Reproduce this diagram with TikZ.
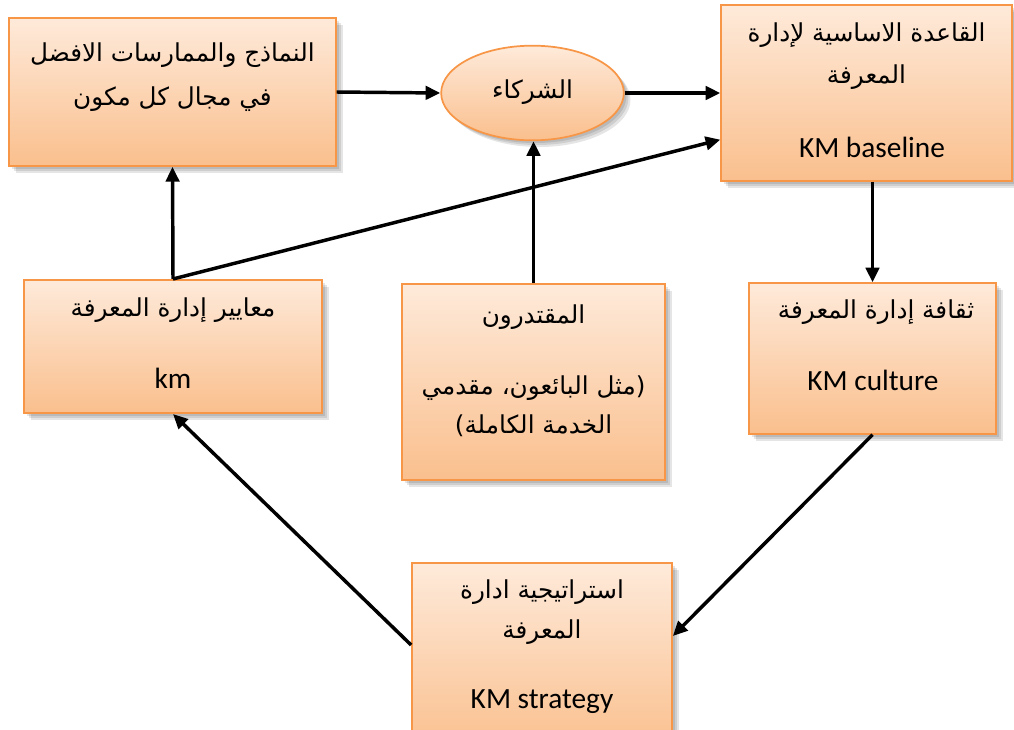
\documentclass[tikz,border=0pt]{standalone}
\usepackage{fontspec}
\setmainfont{Carlito}
\newfontfamily\arabicfont[Script=Arabic]{DejaVu Sans}
\TeXXeTstate=1
\usetikzlibrary{arrows.meta,shapes.geometric}

\definecolor{boxtop}{RGB}{254,234,218}
\definecolor{boxbot}{RGB}{250,191,141}
\definecolor{boxline}{RGB}{247,150,70}

\tikzset{
  softshadow/.style={
    preaction={fill=black,opacity=.10,transform canvas={xshift=2pt,yshift=-2pt}},
    preaction={fill=black,opacity=.10,transform canvas={xshift=3.5pt,yshift=-3.5pt}},
    preaction={fill=black,opacity=.10,transform canvas={xshift=5pt,yshift=-5pt}}},
  stagebox/.style={softshadow, draw=boxline, line width=1.3pt,
    top color=boxtop, bottom color=boxbot, inner sep=0pt},
  ar/.style={font=\arabicfont\fontsize{18.5}{22}\selectfont, inner sep=0pt},
  en/.style={font=\fontsize{22}{26}\selectfont, inner sep=0pt},
  flow/.style={line width=2.6pt, -{Triangle[length=11pt,width=10pt]}}
}

\begin{document}
\begin{tikzpicture}[x=0.75pt,y=-0.75pt]
\useasboundingbox (0,0) rectangle (1014,729);

% boxes
\node[stagebox, minimum width=245pt, minimum height=111pt] (A) at (172.5,92) {};
\node[stagebox, ellipse, minimum width=137pt, minimum height=71pt] (P) at (532.5,93) {};
\node[stagebox, minimum width=218pt, minimum height=132pt] (B) at (866.5,93) {};
\node[stagebox, minimum width=223.5pt, minimum height=100pt] (C) at (173,346.5) {};
\node[stagebox, minimum width=197pt, minimum height=147pt] (D) at (533.5,382) {};
\node[stagebox, minimum width=185pt, minimum height=113pt] (E) at (872.5,358.5) {};
\node[stagebox, minimum width=195pt, minimum height=142pt] (F) at (542,658) {};

% labels
\node[ar] (A1) at (172.5,55) {\beginR النماذج والممارسات الافضل\endR};
\node[ar] (A2) at (172.5,99) {\beginR في مجال كل مكون\endR};
\node[ar] (P1) at (532.5,92) {\beginR الشركاء\endR};
\node[ar] (B1) at (866.5,35) {\beginR القاعدة الاساسية لإدارة\endR};
\node[ar] (B2) at (866.5,77) {\beginR المعرفة\endR};
\node[en] (B3) at (872,147) {KM baseline};
\node[ar] (C1) at (173,310) {\beginR معايير إدارة المعرفة\endR};
\node[en] (C2) at (173,378) {km};
\node[ar] (D1) at (533.5,317) {\beginR المقتدرون\endR};
\node[ar] (D2) at (533.5,388) {\beginR (مثل البائعون، مقدمي\endR};
\node[ar] (D3) at (533.5,426) {\beginR الخدمة الكاملة)\endR};
\node[ar] (E1) at (876,312) {\beginR ثقافة إدارة المعرفة\endR};
\node[en] (E2) at (873,380) {KM culture};
\node[ar] (F1) at (542,592) {\beginR استراتيجية ادارة\endR};
\node[ar] (F2) at (542,632) {\beginR المعرفة\endR};
\node[en] (F3) at (542,702) {KM strategy};

% connectors
\draw[flow] (A.east) -- (P.west);
\draw[flow] (P.east) -- (P.east -| B.west);
\draw[flow] (C.north) -- (A.south);
\draw[flow] (C.north) -- ([yshift=-35pt]B.west);
\draw[flow] (D.north) -- (D.north |- P.south);
\draw[flow] (B.south -| E.north) -- (E.north);
\draw[flow] (E.south) -- ([yshift=16.5pt]F.east);
\draw[flow] ([yshift=9.75pt]F.west) -- (C.south);
\end{tikzpicture}
\end{document}
